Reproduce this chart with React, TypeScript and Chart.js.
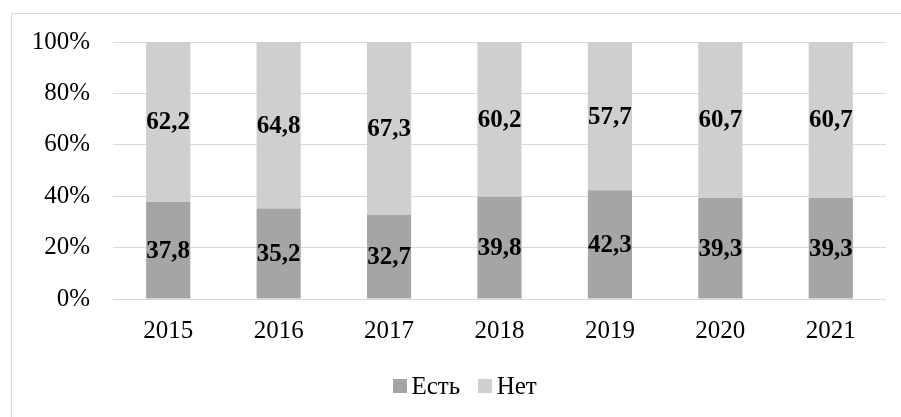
import React, { useEffect, useRef } from "react";
import { Chart, registerables } from "chart.js";

Chart.register(...registerables);

const YEARS = ["2015", "2016", "2017", "2018", "2019", "2020", "2021"];
const EST = [37.8, 35.2, 32.7, 39.8, 42.3, 39.3, 39.3];
const NET = [62.2, 64.8, 67.3, 60.2, 57.7, 60.7, 60.7];
const SERIES = ["Есть", "Нет"];
const COLORS = ["#A5A5A5", "#D0CECE"];
const Y_TICKS = [0, 20, 40, 60, 80, 100];

const FONT = '"Liberation Serif", "Times New Roman", serif';

const borderPlugin = {
  id: "frameBorder",
  beforeDraw(chart: any) {
    const ctx = chart.ctx;
    ctx.save();
    ctx.strokeStyle = "#D9D9D9";
    ctx.lineWidth = 1;
    ctx.strokeRect(11.5, 13.5, 900, 420);
    ctx.restore();
  },
};

const labelPlugin = {
  id: "valueLabels",
  afterDatasetsDraw(chart: any) {
    const ctx = chart.ctx;
    ctx.save();
    ctx.font = `bold 25px ${FONT}`;
    ctx.fillStyle = "#000000";
    ctx.textAlign = "center";
    ctx.textBaseline = "middle";
    chart.data.datasets.forEach((ds: any, di: number) => {
      const meta = chart.getDatasetMeta(di);
      meta.data.forEach((el: any, i: number) => {
        const v = ds.data[i];
        const cy = (el.y + el.base) / 2;
        ctx.fillText(v.toFixed(1).replace(".", ","), el.x, cy + 1);
      });
    });
    ctx.restore();
  },
};

export default function App() {
  const ref = useRef<HTMLCanvasElement | null>(null);

  useEffect(() => {
    if (!ref.current) return;
    const chart = new Chart(ref.current, {
      type: "bar",
      data: {
        labels: YEARS,
        datasets: [
          { label: SERIES[0], data: EST, backgroundColor: COLORS[0], barPercentage: 0.4, categoryPercentage: 1 },
          { label: SERIES[1], data: NET, backgroundColor: COLORS[1], barPercentage: 0.4, categoryPercentage: 1 },
        ],
      },
      options: {
        responsive: false,
        animation: false,
        devicePixelRatio: 1,
        layout: { padding: { left: 20, right: 15, top: 42, bottom: 68 } },
        plugins: {
          legend: { display: false },
          tooltip: { enabled: false },
          title: { display: false },
        },
        scales: {
          x: {
            stacked: true,
            grid: { display: false, drawTicks: false },
            border: { display: false },
            ticks: { color: "#000000", font: { family: FONT, size: 25 }, padding: 17, maxRotation: 0 },
            afterFit(scale: any) {
              scale.height = 50;
            },
          },
          y: {
            stacked: true,
            min: 0,
            max: 100,
            afterBuildTicks(scale: any) {
              scale.ticks = Y_TICKS.map((v) => ({ value: v }));
            },
            grid: { color: "#D9D9D9", lineWidth: 1, drawTicks: false },
            border: { display: false },
            ticks: {
              color: "#000000",
              font: { family: FONT, size: 25 },
              padding: 23,
              callback: (v: any) => `${v}%`,
            },
            afterFit(scale: any) {
              scale.width = 93;
            },
          },
        },
      },
      plugins: [borderPlugin, labelPlugin],
    });
    return () => chart.destroy();
  }, []);

  return (
    <div>
      <canvas
        ref={ref}
        width={901}
        height={417}
        style={{ position: "fixed", left: 0, top: 0, width: 901, height: 417, display: "block" }}
      />
      <div
        style={{
          position: "fixed",
          left: 393,
          top: 373,
          height: 25,
          display: "flex",
          alignItems: "center",
          fontFamily: FONT,
          fontSize: 25,
          lineHeight: "25px",
          color: "#000000",
          whiteSpace: "nowrap",
        }}
      >
        {SERIES.map((s, i) => (
          <div key={s} style={{ display: "flex", alignItems: "center", marginRight: i === 0 ? 18 : 0 }}>
            <span style={{ display: "inline-block", width: 14, height: 14, background: COLORS[i], marginRight: 4.5 }} />
            <span>{s}</span>
          </div>
        ))}
      </div>
    </div>
  );
}
